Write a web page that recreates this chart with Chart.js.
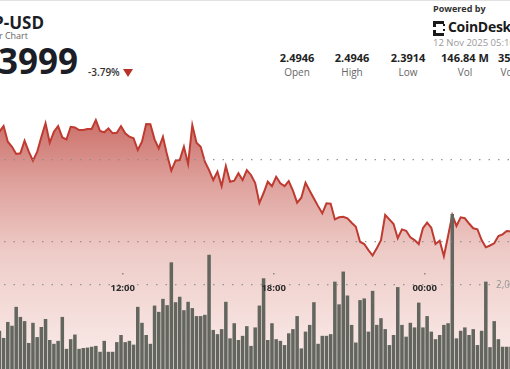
<!DOCTYPE html>
<html>
<head>
<meta charset="utf-8">
<script src="https://cdn.jsdelivr.net/npm/chart.js@4.4.1/dist/chart.umd.min.js"></script>
<style>
  html, body { margin: 0; padding: 0; overflow: hidden; }
  body { width: 510px; height: 369px; position: relative; background: #fff; font-family: 'Open Sans', sans-serif; color: #1b1e27; }
  .t { position: absolute; white-space: nowrap; line-height: 1; }
  .topline { position: absolute; left: 0; top: 0; width: 510px; height: 1px; background: #e2e2e2; }
  .stat { position: absolute; width: 70px; text-align: center; white-space: nowrap; line-height: 1; }
  .stat .v { font-size: 11px; font-weight: 700; color: #222; }
  .stat .l { font-size: 10px; color: #666; margin-top: 4px; }
  #chartBox { position: absolute; left: -53px; top: 80px; width: 608px; height: 289px; }
  .icon { position: absolute; left: 433px; top: 21px; width: 8px; height: 9px; border: 3px dashed #1a1a1a; border-right: none; }
  .icon2 { position: absolute; left: 443px; top: 24px; width: 2px; height: 7px; border-top: 2px solid #1a1a1a; border-bottom: 2px solid #1a1a1a; box-sizing: border-box; }
</style>
</head>
<body>
<div class="topline"></div>

<div class="t" style="right:466px; top:14px; font-size:17px; font-weight:700;">XRP-USD</div>
<div class="t" style="right:482px; top:31px; font-size:9px; color:#666;">24 Hour Chart</div>
<div class="t" style="right:432px; top:43px; font-size:35px; font-weight:700;">2.3999</div>
<div class="t" style="left:88px; top:67px; font-size:10px; font-weight:600; color:#333;">-3.79%</div>
<div style="position:absolute; left:123px; top:69px; width:0; height:0; border-left:5px solid transparent; border-right:5px solid transparent; border-top:8px solid #b8322a;"></div>

<div class="t" style="left:433px; top:4px; font-size:9px; font-weight:700; color:#333;">Powered by</div>
<div class="icon"></div><div class="icon2"></div>
<div class="t" style="left:448px; top:20px; font-size:14px; font-weight:700; color:#1a1a1a; letter-spacing:-0.3px;">CoinDesk Indices</div>
<div class="t" style="left:433px; top:38px; font-size:9.5px; color:#999;">12 Nov 2025 05:10 UTC</div>

<div class="stat" style="left:262px; top:52px;"><div class="v">2.4946</div><div class="l">Open</div></div>
<div class="stat" style="left:317px; top:52px;"><div class="v">2.4946</div><div class="l">High</div></div>
<div class="stat" style="left:373px; top:52px;"><div class="v">2.3914</div><div class="l">Low</div></div>
<div class="stat" style="left:430px; top:52px;"><div class="v">146.84 M</div><div class="l">Vol</div></div>
<div class="stat" style="left:487px; top:52px;"><div class="v">355.41 M</div><div class="l">Vol (USD)</div></div>

<div id="chartBox"><canvas id="chart"></canvas></div>

<script>
// 10 minute samples, first one at 05:06
const startTime = '05:06';
const stepMinutes = 10;

const prices = [
  2.4946, 2.4897, 2.4842, 2.4866, 2.4793, 2.4756, 2.4774, 2.4720, 2.4738, 2.4695, 2.4713, 2.4665,
  2.4673, 2.4707, 2.4612, 2.4581, 2.4537, 2.4541, 2.4618, 2.4551, 2.4496, 2.4549,
  2.4640, 2.4724, 2.4605, 2.4673, 2.4707, 2.4638, 2.4626, 2.4703, 2.4699, 2.4683,
  2.4683, 2.4689, 2.4689, 2.4744, 2.4677, 2.4669, 2.4693, 2.4663, 2.4666, 2.4707,
  2.4663, 2.4642, 2.4632, 2.4561, 2.4612, 2.4720, 2.4718, 2.4626, 2.4571, 2.4642,
  2.4530, 2.4435, 2.4496, 2.4500, 2.4581, 2.4476, 2.4713, 2.4605, 2.4581, 2.4490,
  2.4439, 2.4378, 2.4429, 2.4341, 2.4463, 2.4368, 2.4374, 2.4419, 2.4378, 2.4439,
  2.4409, 2.4360, 2.4238, 2.4299, 2.4368, 2.4341, 2.4398, 2.4358, 2.4341, 2.4372,
  2.4313, 2.4240, 2.4270, 2.4362, 2.4313, 2.4266, 2.4219, 2.4175, 2.4236, 2.4234,
  2.4138, 2.4151, 2.4154, 2.4145, 2.4118, 2.4093, 2.4002, 2.3988, 2.3951, 2.3918,
  2.3962, 2.4012, 2.4165, 2.4138, 2.4110, 2.4023, 2.4077, 2.4069, 2.4029, 2.4012,
  2.3988, 2.4084, 2.4118, 2.4087, 2.3988, 2.4008, 2.3914, 2.4037, 2.4165, 2.4098,
  2.4151, 2.4145, 2.4113, 2.4084, 2.4078, 2.4012, 2.3968, 2.3979, 2.3992, 2.4037,
  2.4047, 2.4067, 2.4064, 2.4079, 2.4052, 2.4031, 2.4046, 2.4020, 2.4003, 2.4025,
  2.4010, 2.3987, 2.3999
];

// volume per bar, millions
const volumes = [
  1.2, 0.9, 1.1, 1.4, 0.8, 1.0, 0.7, 1.3, 0.9, 1.1, 0.8, 1.0,
  0.91, 0.74, 1.12, 1.03, 1.48, 1.24, 1.14, 0.62, 1.10, 0.76,
  1.00, 1.19, 0.69, 0.60, 0.67, 1.24, 0.48, 0.71, 0.82, 0.48,
  0.50, 0.51, 0.53, 0.55, 0.41, 0.67, 0.41, 0.41, 0.64, 0.81,
  0.64, 0.67, 0.58, 1.48, 1.10, 0.81, 0.60, 1.51, 1.36, 1.67,
  1.52, 2.54, 1.59, 1.72, 1.40, 1.60, 1.45, 1.26, 1.26, 1.29,
  2.72, 0.93, 0.83, 0.95, 1.60, 0.73, 1.09, 0.69, 0.79, 1.02,
  0.55, 0.99, 1.51, 2.16, 0.69, 1.09, 0.71, 0.67, 0.57, 0.85,
  0.95, 1.26, 0.49, 0.89, 1.05, 1.59, 0.60, 0.79, 0.79, 0.83,
  2.08, 1.54, 2.32, 1.75, 1.05, 0.63, 1.64, 1.68, 0.89, 1.86,
  1.05, 1.21, 0.95, 0.57, 0.81, 1.95, 1.05, 0.77, 1.10, 0.99,
  1.58, 0.99, 1.26, 0.89, 0.71, 0.81, 1.05, 1.09, 3.69, 0.73,
  0.91, 0.99, 0.81, 0.95, 0.57, 0.91, 2.08, 0.52, 1.14, 0.71,
  0.53, 0.53, 0.53, 0.6, 0.8, 0.7, 1.0, 0.9, 1.2, 0.8,
  0.7, 1.1, 0.9
];

const tickLabels = ['12:00', '18:00', '00:00'];
const priceGrid = [2.40, 2.45];
const volumeGrid = [2];
const volumeLabel = '2,000,000';

function toMin(s) { const [h, m] = s.split(':').map(Number); return h * 60 + m; }
const minutes = prices.map((_, i) => i * stepMinutes);
const tickMinutes = tickLabels.map(t => (toMin(t) - toMin(startTime) + 1440) % 1440);

function fillGradient(ctx) {
  const { chart } = ctx;
  const area = chart.chartArea;
  if (!area) return 'rgba(220,150,145,0.8)';
  const g = chart.ctx.createLinearGradient(0, area.top, 0, area.bottom);
  g.addColorStop(0, 'rgb(196,92,86)');
  g.addColorStop(0.14, 'rgb(204,112,106)');
  g.addColorStop(0.36, 'rgb(223,162,157)');
  g.addColorStop(0.6, 'rgb(238,204,200)');
  g.addColorStop(1, 'rgb(250,237,235)');
  return g;
}

const overlay = {
  id: 'overlay',
  afterDraw(chart) {
    const { ctx, scales, chartArea } = chart;
    const yg = scales.yv.getPixelForValue(volumeGrid[0]);
    ctx.save();
    ctx.font = 'bold 9.5px "Open Sans"';
    ctx.textAlign = 'center';
    ctx.textBaseline = 'middle';
    tickMinutes.forEach((m, k) => {
      const x = scales.x.getPixelForValue(m);
      ctx.fillStyle = '#8a8a8a';
      ctx.fillRect(Math.round(x) - 1, Math.round(yg - 12), 1.5, 1.5);
      ctx.fillStyle = '#2b2b2b';
      ctx.fillText(tickLabels[k], x, yg + 3.5);
    });
    ctx.font = '10px "Open Sans"';
    ctx.textAlign = 'left';
    ctx.fillStyle = '#9a9a9a';
    ctx.fillText(volumeLabel, chartArea.right - 59, yg);
    ctx.restore();
  }
};

const gridStyle = { color: 'rgba(140,140,140,0.9)', lineWidth: 1.3, drawTicks: false, z: 1 };
const gridBorder = { display: false, dash: [1.5, 8] };

new Chart(document.getElementById('chart'), {
  data: {
    labels: minutes,
    datasets: [
      {
        type: 'bar',
        data: volumes,
        yAxisID: 'yv',
        backgroundColor: '#62665f',
        borderWidth: 0,
        categoryPercentage: 1,
        barPercentage: 0.84,
        order: 0
      },
      {
        type: 'line',
        data: prices,
        yAxisID: 'y',
        borderColor: '#bf3a30',
        borderWidth: 2,
        pointRadius: 0,
        tension: 0,
        fill: 'start',
        backgroundColor: fillGradient,
        order: 1
      }
    ]
  },
  options: {
    responsive: true,
    maintainAspectRatio: false,
    animation: false,
    layout: { padding: 0 },
    plugins: { legend: { display: false }, tooltip: { enabled: false } },
    scales: {
      x: {
        type: 'linear',
        min: -stepMinutes / 2,
        max: (prices.length - 1) * stepMinutes + stepMinutes / 2,
        offset: false,
        display: false
      },
      y: {
        position: 'left',
        min: 2.3226,
        max: 2.4988,
        afterBuildTicks: s => { s.ticks = priceGrid.map(v => ({ value: v })); },
        ticks: { display: false },
        grid: gridStyle,
        border: gridBorder
      },
      yv: {
        position: 'right',
        min: 0,
        max: 6.88,
        afterBuildTicks: s => { s.ticks = volumeGrid.map(v => ({ value: v })); },
        ticks: { display: false },
        grid: gridStyle,
        border: gridBorder
      }
    }
  },
  plugins: [overlay]
});
</script>
</body>
</html>
